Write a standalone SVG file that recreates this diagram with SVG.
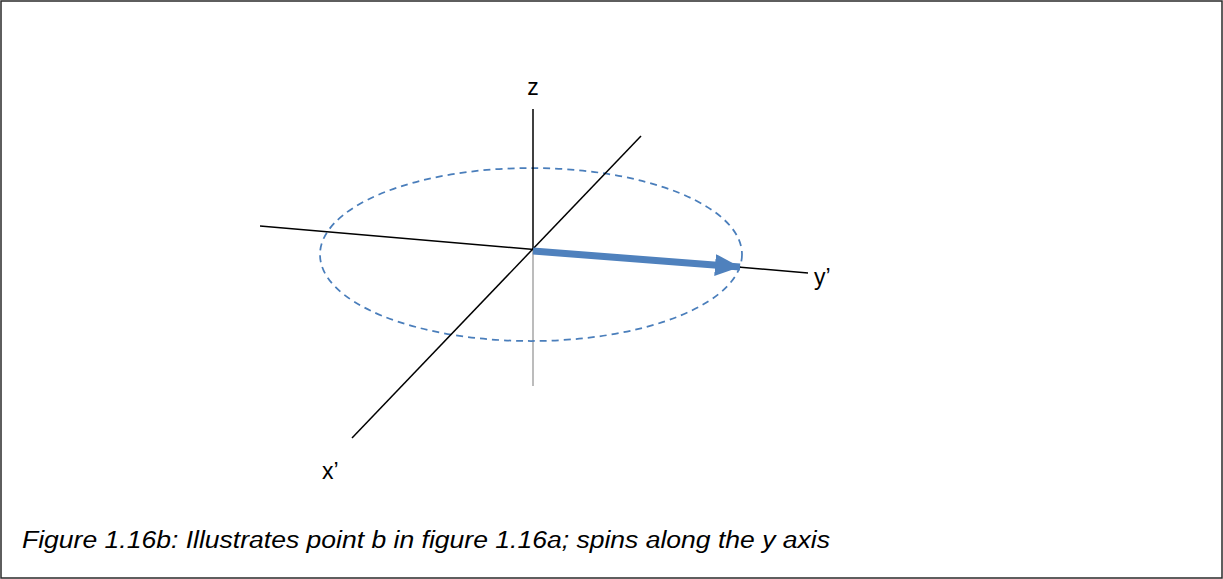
<svg xmlns="http://www.w3.org/2000/svg" width="1223" height="579" viewBox="0 0 1223 579">
<style>
.axis{stroke:#000;stroke-width:1.5;fill:none}
.lbl{font-family:"Liberation Sans",Arial,sans-serif;font-size:23px;fill:#000}
.cap{font-family:"Liberation Sans",Arial,sans-serif;font-size:23px;font-style:italic;fill:#000}
</style>
<defs>
<marker id="ah" markerUnits="userSpaceOnUse" markerWidth="30" markerHeight="30" refX="25" refY="11" orient="auto">
<path d="M0,0 L25,11 L0,22 Z" fill="#4f81bd"/>
</marker>
</defs>
<rect x="1" y="1" width="1221" height="577" fill="#fff" stroke="#2a2a2a" stroke-width="1.5"/>
<g id="connectors">
<line id="z-axis-lower" x1="533" y1="249" x2="533" y2="386" stroke="#a6a6a6" stroke-width="1.5"/>
<ellipse id="orbit" cx="531" cy="254.5" rx="211" ry="86.5" fill="none" stroke="#4a7ebb" stroke-width="1.75" stroke-dasharray="7,5"/>
<line id="z-axis" class="axis" x1="533" y1="109" x2="533" y2="249"/>
<line id="x-axis" class="axis" x1="641" y1="136" x2="352" y2="438"/>
<line id="y-axis" class="axis" x1="260" y1="226" x2="808" y2="273"/>
<line id="spin" x1="533" y1="251" x2="740" y2="267" stroke="#4f81bd" stroke-width="7" marker-end="url(#ah)"/>
</g>
<g id="label-z"><text class="lbl" x="533" y="95" text-anchor="middle">z</text></g>
<g id="label-y"><text class="lbl" x="814" y="285">y’</text></g>
<g id="label-x"><text class="lbl" x="322" y="479">x’</text></g>
<g id="caption"><text class="cap" x="22" y="548" textLength="808" lengthAdjust="spacingAndGlyphs">Figure 1.16b: Illustrates point b in figure 1.16a; spins along the y axis</text></g>
</svg>
